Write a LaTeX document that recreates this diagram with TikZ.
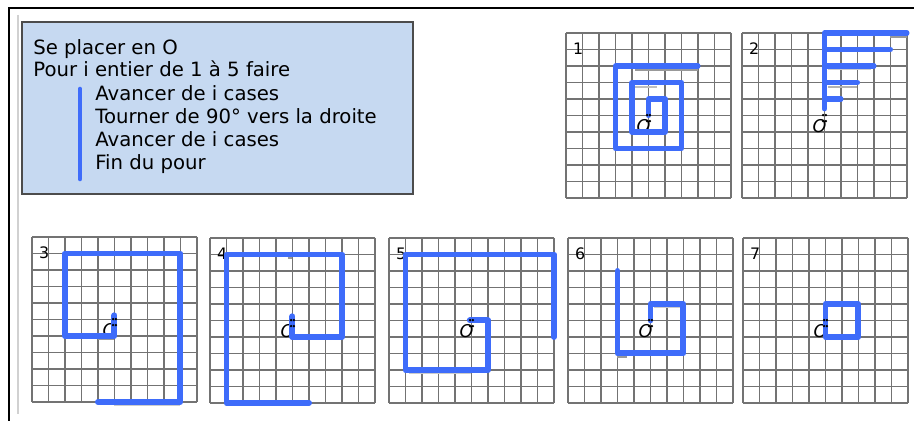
\documentclass[tikz,border=0pt]{standalone}
\usepackage{fontspec}
\setmainfont{DejaVu Sans}
\usetikzlibrary{positioning}
\definecolor{fondalgo}{RGB}{198,217,241}
\definecolor{bleutrace}{RGB}{62,108,250}

\begin{document}
\begin{tikzpicture}[x=0.02cm, y=-0.02cm,
  ligne/.style={font=\fontsize{11.2}{13}\selectfont, anchor=base west, inner sep=0pt},
  cadre/.style={draw=black!70, fill=fondalgo, line width=0.9pt},
  grille/.style={shift={#1}, x=0.33cm, y=-0.33cm},
  quadrillage/.style={draw=black!55, line width=0.8pt},
  trace/.style={draw=bleutrace, line width=#1, line cap=round, line join=round},
  trace/.default=3.4pt,
  ombre/.style={draw=black!40, line width=1.2pt},
  numero/.style={font=\fontsize{9}{9}\selectfont, inner sep=0pt},
  origine/.style={font=\fontsize{10}{10}\selectfont\itshape, inner sep=0pt},
]
\useasboundingbox (0,0) rectangle (914,421);

% ===== PAGE FRAME =====
\draw[black, line width=0.9pt] (914,8) -- (9,8) -- (9,421);
\draw[black!18, line width=0.9pt] (18,15) -- (18,414);

% ===== ALGORITHM BOX =====
\draw[cadre] (22,22) rectangle (413,194);
\draw[trace=2.6pt] (80,89) -- (80,179);
\node[ligne] (l1) at (33,55) {Se placer en O};
\node[ligne] (l2) at (33,77) {Pour i entier de 1 à 5 faire};
\node[ligne] (l3) at (95,101) {Avancer de i cases};
\node[ligne] (l4) at (95,124) {Tourner de 90° vers la droite};
\node[ligne] (l5) at (95,147) {Avancer de i cases};
\node[ligne] (l6) at (95,170) {Fin du pour};

% ===== GRIDS (10x10 cells) =====
\foreach \gx/\gy/\n in {566/33/1, 742/33/2, 32/237/3, 210/238/4, 389/238/5, 568/238/6, 743/238/7} {
  \begin{scope}[grille={(\gx,\gy)}]
    \foreach \k in {0,...,10} {
      \draw[quadrillage] (\k,0) -- (\k,10);
      \draw[quadrillage] (0,\k) -- (10,\k);
    }
    \node[numero] (num\n) at (0.73,0.97) {\n};
    \coordinate (o\n) at (5,5);
    \node[origine] (lo\n) at (4.7,5.65) {O};
  \end{scope}
}

% ===== PATHS =====
% 1
\begin{scope}[grille={(566,33)}]
  \draw[ombre] (4.2,2.25) -- (8,2.25);
  \draw[ombre, black!25] (4.2,3.25) -- (5.5,3.25);
  \draw[trace=2.9pt] (5,5) -- (5,4) -- (6,4) -- (6,6) -- (4,6) -- (4,3) -- (7,3)
    -- (7,7) -- (3,7) -- (3,2) -- (8,2);
\end{scope}
% 2
\begin{scope}[grille={(742,33)}]
  \draw[ombre] (9,0.25) -- (10,0.25);
  \draw[ombre, black!20] (5.2,2.2) -- (7.8,2.2);
  \draw[ombre, black!30] (5.2,3.3) -- (7,3.3);
  \draw[trace=2.9pt] (5,4.6) -- (5,0) -- (10,0);
  \draw[trace=2.9pt] (5,1) -- (9,1);
  \draw[trace=2.9pt] (5,2) -- (8,2);
  \draw[trace=2.9pt] (5,3) -- (7,3);
  \draw[trace=2.9pt] (5,4) -- (6,4);
\end{scope}
% 3
\begin{scope}[grille={(32,237)}]
  \draw[ombre, black!20] (5,10.2) -- (9,10.2);
  \draw[ombre] (4,6.15) -- (5,6.15);
  \draw[trace] (5,4.75) -- (5,6) -- (2,6) -- (2,1) -- (9,1) -- (9,10) -- (4,10);
\end{scope}
% 4
\begin{scope}[grille={(210,238)}]
  \draw[ombre] (1.2,10.15) -- (4.5,10.15);
  \draw[ombre] (5.2,6.1) -- (7.7,6.1);
  \draw[ombre] (4.7,1.2) -- (5,1.2);
  \draw[trace] (5,4.75) -- (5,6) -- (8,6) -- (8,1) -- (1,1) -- (1,10) -- (6,10);
\end{scope}
% 5
\begin{scope}[grille={(389,238)}]
  \draw[ombre, black!20] (1.2,8.2) -- (5,8.2);
  \draw[trace] (4.9,5) -- (6,5) -- (6,8) -- (1,8) -- (1,1) -- (10,1) -- (10,6);
\end{scope}
% 6
\begin{scope}[grille={(568,238)}]
  \draw[ombre, black!20] (5.2,4.2) -- (6.8,4.2);
  \draw[ombre] (3,7.2) -- (3.6,7.2);
  \draw[trace] (5,5) -- (5,4) -- (7,4) -- (7,7) -- (3,7) -- (3,2);
\end{scope}
% 7
\begin{scope}[grille={(743,238)}]
  \draw[trace] (5,5) -- (5,4) -- (7,4) -- (7,6) -- (5,6) -- cycle;
\end{scope}

% ===== ORIGIN MARKS =====
\foreach \n in {1,...,7} {
  \fill ([shift={(-0.8pt,-3.2pt)}]o\n) circle (0.75pt);
  \fill ([shift={(0.8pt,-3.2pt)}]o\n) circle (0.75pt);
  \fill ([shift={(-0.8pt,0.2pt)}]o\n) circle (0.75pt);
  \fill ([shift={(0.8pt,0.2pt)}]o\n) circle (0.75pt);
}

\end{tikzpicture}
\end{document}
